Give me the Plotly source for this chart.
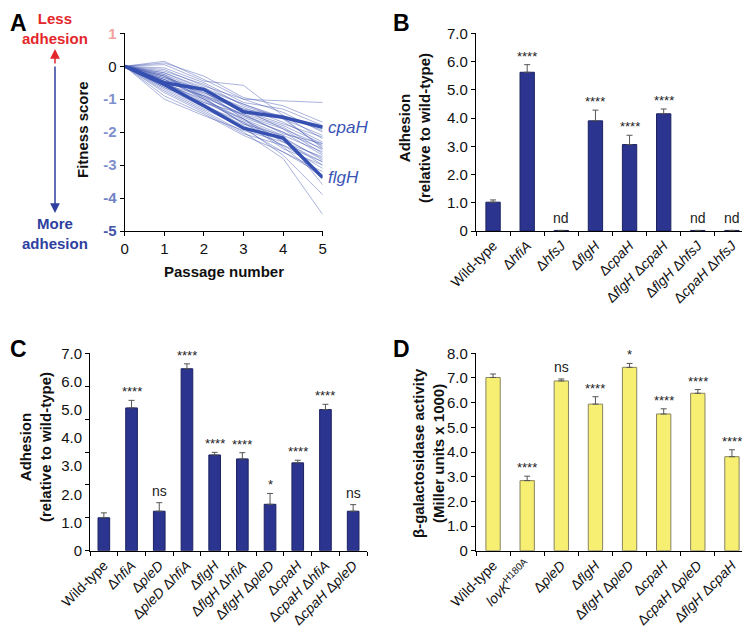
import plotly.graph_objects as go

W, H = 750, 629
OFF = 8  # page body margin that the browser adds around the plot

# ---------------- data ----------------
# Panel A: fitness score per passage
passages = [0, 1, 2, 3, 4, 5]
thin_scores = [
    [0, 0.15, -0.4, -1.0, -1.05, -1.1],
    [0, 0.1, -0.3, -0.95, -1.2, -1.7],
    [0, 0.05, -0.45, -0.58, -1.5, -1.95],
    [0, -0.05, -0.5, -1.1, -1.3, -1.8],
    [0, -0.1, -0.6, -1.0, -1.4, -2.0],
    [0, -0.15, -0.55, -1.2, -1.6, -2.1],
    [0, -0.2, -0.7, -1.3, -1.5, -2.2],
    [0, -0.25, -0.75, -1.25, -1.7, -2.3],
    [0, -0.3, -0.8, -1.4, -1.8, -2.35],
    [0, -0.3, -0.9, -1.3, -1.9, -2.4],
    [0, -0.35, -0.85, -1.5, -2.0, -2.5],
    [0, -0.4, -0.95, -1.45, -1.85, -2.55],
    [0, -0.4, -1.0, -1.6, -2.1, -2.6],
    [0, -0.45, -0.9, -1.55, -2.0, -2.7],
    [0, -0.5, -1.05, -1.7, -2.2, -2.8],
    [0, -0.5, -1.1, -1.6, -2.3, -2.9],
    [0, -0.55, -1.0, -1.75, -2.25, -3.0],
    [0, -0.6, -1.15, -1.8, -2.4, -3.1],
    [0, -0.6, -1.2, -1.7, -2.5, -3.0],
    [0, -0.65, -1.25, -1.9, -2.6, -3.2],
    [0, -0.7, -1.3, -1.85, -2.7, -3.9],
    [0, -0.75, -1.35, -2.0, -2.8, -4.5],
    [0, -0.8, -1.4, -2.05, -2.4, -2.9],
    [0, -0.9, -1.45, -2.1, -2.6, -3.3],
    [0, -1.0, -1.5, -1.95, -2.3, -2.75],
    [0, -0.35, -0.7, -1.15, -1.6, -2.45],
    [0, -0.45, -0.8, -1.35, -1.75, -2.15],
    [0, -0.2, -0.65, -1.15, -1.55, -2.5],
    [0, -0.55, -0.9, -1.5, -1.9, -2.65],
    [0, -0.3, -1.0, -1.65, -2.15, -2.85],
    [0, -0.65, -1.1, -1.45, -2.05, -2.35],
    [0, -0.4, -0.75, -1.6, -2.45, -3.4],
    [0, -0.25, -0.95, -1.75, -2.1, -3.6],
]
cpaH_score = [0, -0.5, -0.7, -1.38, -1.55, -1.85]
flgH_score = [0, -0.55, -1.2, -1.88, -2.18, -3.38]
A_yticks = [1, 0, -1, -2, -3, -4, -5]
A_ytick_colors = ['#f4a39c', '#111111', '#8090cc', '#8090cc', '#8090cc', '#7082c4', '#4456a8']

# Panel B
B_cats = ['Wild-type', 'Δ<i>hfiA</i>', 'Δ<i>hfsJ</i>', 'Δ<i>flgH</i>', 'Δ<i>cpaH</i>',
          'Δ<i>flgH</i> Δ<i>cpaH</i>', 'Δ<i>flgH</i> Δ<i>hfsJ</i>', 'Δ<i>cpaH</i> Δ<i>hfsJ</i>']
B_vals = [1.02, 5.62, 0.02, 3.90, 3.06, 4.15, 0.02, 0.02]
B_errs = [0.08, 0.27, None, 0.38, 0.33, 0.17, None, None]
B_marks = ['', '****', 'nd', '****', '****', '****', 'nd', 'nd']
B_ticklabels = ['0', '1.0', '2.0', '3.0', '4.0', '5.0', '6.0', '7.0']

# Panel C
C_cats = ['Wild-type', 'Δ<i>hfiA</i>', 'Δ<i>pleD</i>', 'Δ<i>pleD</i> Δ<i>hfiA</i>', 'Δ<i>flgH</i>',
          'Δ<i>flgH</i> Δ<i>hfiA</i>', 'Δ<i>flgH</i> Δ<i>pleD</i>', 'Δ<i>cpaH</i>',
          'Δ<i>cpaH</i> Δ<i>hfiA</i>', 'Δ<i>cpaH</i> Δ<i>pleD</i>']
C_vals = [1.0, 4.34, 1.2, 5.53, 2.91, 2.79, 1.41, 2.67, 4.29, 1.2]
C_errs = [0.15, 0.23, 0.26, 0.15, 0.08, 0.19, 0.33, 0.08, 0.16, 0.20]
C_marks = ['', '****', 'ns', '****', '****', '****', '*', '****', '****', 'ns']
C_ticklabels = ['0', '1.0', '2.0', '3.0', '4.0', '5.0', '6.0', '7.0']

# Panel D
D_cats = ['Wild-type', '<i>lovK</i><sup>H180A</sup>', 'Δ<i>pleD</i>', 'Δ<i>flgH</i>',
          'Δ<i>flgH</i> Δ<i>pleD</i>', 'Δ<i>cpaH</i>', 'Δ<i>cpaH</i> Δ<i>pleD</i>', 'Δ<i>flgH</i> Δ<i>cpaH</i>']
D_vals = [7.02, 2.84, 6.88, 5.94, 7.43, 5.54, 6.38, 3.81]
D_errs = [0.14, 0.18, 0.08, 0.30, 0.16, 0.21, 0.15, 0.28]
D_marks = ['', '****', 'ns', '****', '*', '****', '****', '****']
D_ticklabels = ['0', '1.0', '2.0', '3.0', '4.0', '5.0', '6.0', '7.0', '8.0']

# ---------------- helpers ----------------
FONT = 'Liberation Sans, Arial, sans-serif'
NAVY = '#2b3590'
YELLOW = '#f6ef72'
LINEBLUE = '#3550b0'


def px(x):
    # screen pixel -> paper fraction
    return (x - OFF) / W


def py(y):
    return 1 - (y - OFF) / H


fig = go.Figure()

# Panel A traces
for s in thin_scores:
    fig.add_trace(go.Scatter(x=passages, y=s, mode='lines', xaxis='x', yaxis='y',
                             line=dict(color='rgba(60,80,175,0.55)', width=0.8),
                             hoverinfo='skip', showlegend=False))
for s in [cpaH_score, flgH_score]:
    fig.add_trace(go.Scatter(x=passages, y=s, mode='lines', xaxis='x', yaxis='y',
                             line=dict(color=LINEBLUE, width=3.5),
                             showlegend=False))


def bars(cats, vals, errs, color, edge, xa, ya):
    fig.add_trace(go.Bar(
        x=cats, y=vals, xaxis=xa, yaxis=ya, width=0.42,
        marker=dict(color=color, line=dict(color=edge, width=1)),
        error_y=dict(type='data', array=errs, arrayminus=[0] * len(vals), symmetric=False,
                     color='#555555', thickness=1, width=3),
        showlegend=False))


bars(B_cats, B_vals, B_errs, NAVY, '#1c2160', 'x2', 'y2')
bars(C_cats, C_vals, C_errs, NAVY, '#1c2160', 'x3', 'y3')
bars(D_cats, D_vals, D_errs, YELLOW, '#8a8460', 'x4', 'y4')
# carrier for the C tick-label axis
fig.add_trace(go.Scatter(x=[], y=[], xaxis='x3', yaxis='y5', showlegend=False))

annotations = []


def marks(cats, vals, errs, labels, xa, ya):
    for c, v, e, m in zip(cats, vals, errs, labels):
        if not m:
            continue
        star = m.startswith('*')
        annotations.append(dict(
            x=c, y=v + (e or 0), xref=xa, yref=ya, text=m, showarrow=False,
            xanchor='center', yanchor='bottom', yshift=-1 if star else 2,
            font=dict(family=FONT, size=13 if star else 14, color='#222222')))


marks(B_cats, B_vals, B_errs, B_marks, 'x2', 'y2')
marks(C_cats, C_vals, C_errs, C_marks, 'x3', 'y3')
marks(D_cats, D_vals, D_errs, D_marks, 'x4', 'y4')

bold15 = dict(family=FONT, size=15, color='#111111')

# panel letters
for letter, x, y in [('A', 8, 8), ('B', 391, 8), ('C', 8, 334), ('D', 391, 334)]:
    annotations.append(dict(x=px(x), y=py(y), xref='paper', yref='paper', text='<b>%s</b>' % letter,
                            showarrow=False, xanchor='left', yanchor='top',
                            font=dict(family=FONT, size=23, color='black')))

# axis titles
annotations += [
    dict(x=px(83), y=py(130), text='<b>Fitness score</b>', textangle=-90),
    dict(x=px(224), y=py(271), text='<b>Passage number</b>'),
    dict(x=px(415), y=py(128), text='<b>Adhesion<br>(relative to wild-type)</b>', textangle=-90),
    dict(x=px(35), y=py(447), text='<b>Adhesion<br>(relative to wild-type)</b>', textangle=-90),
    dict(x=px(428), y=py(453), text='<b>β-galactosidase activity<br>(Miller units x 1000)</b>', textangle=-90),
]
for a in annotations[-5:]:
    a.update(xref='paper', yref='paper', showarrow=False, font=bold15,
             xanchor='center', yanchor='middle')

# gene labels in A
for name, s in [('cpaH', cpaH_score), ('flgH', flgH_score)]:
    annotations.append(dict(x=passages[-1], y=s[-1], xref='x', yref='y', text='<i>%s</i>' % name,
                            showarrow=False, xanchor='left', yanchor='middle', xshift=3,
                            font=dict(family=FONT, size=17, color='#3a54b4')))

# adhesion arrow on the left of A
annotations += [
    dict(x=px(55), y=py(29), xref='paper', yref='paper', text='<b>Less<br>adhesion</b>', showarrow=False,
         xanchor='center', yanchor='middle', font=dict(family=FONT, size=15, color='#e3262c')),
    dict(x=px(55), y=py(233), xref='paper', yref='paper', text='<b>More<br>adhesion</b>', showarrow=False,
         xanchor='center', yanchor='middle', font=dict(family=FONT, size=15, color='#2f3f9f')),
    dict(x=px(55), y=py(49), xref='paper', yref='paper', text='', showarrow=True, ax=0, ay=16,
         arrowhead=2, arrowsize=1.3, arrowwidth=1.5, arrowcolor='#e3262c'),
    dict(x=px(55), y=py(213), xref='paper', yref='paper', text='', showarrow=True, ax=0, ay=-148,
         arrowhead=2, arrowsize=1.3, arrowwidth=1.5, arrowcolor='#2f3f9f'),
]

tickfont = dict(family=FONT, size=15, color='#111111')
axis_common = dict(showline=True, linecolor='black', linewidth=1.2, ticks='outside', ticklen=4,
                   tickcolor='black', showgrid=False, zeroline=False, tickfont=tickfont,
                   automargin=False)
cat_axis = dict(axis_common, type='category', tickson='boundaries', tickangle=-45,
                tickfont=dict(family=FONT, size=14, color='#111111'))

top_row = [py(231), py(33.3)]
bottom_row = [py(550.7), py(353.3)]

fig.update_layout(
    width=W, height=H, margin=dict(l=0, r=0, t=0, b=0, autoexpand=False),
    paper_bgcolor='white', plot_bgcolor='white', showlegend=False,
    font=dict(family=FONT), bargap=0.58,
    xaxis=dict(axis_common, domain=[px(124.7), px(322.7)], anchor='y', range=[0, 5],
               tickvals=passages),
    yaxis=dict(axis_common, domain=top_row, anchor='x', range=[-5, 1], tickvals=A_yticks,
               ticktext=['<span style="color:%s"><b>%d</b></span>' % (c, t) if t != 0
                         else '<span style="color:%s">%d</span>' % (c, t)
                         for t, c in zip(A_yticks, A_ytick_colors)]),
    xaxis2=dict(cat_axis, domain=[px(476), px(749)], anchor='y2'),
    yaxis2=dict(axis_common, domain=top_row, anchor='x2', range=[0, 7],
                tickvals=list(range(8)), ticktext=B_ticklabels),
    xaxis3=dict(cat_axis, domain=[px(90), px(367)], anchor='y3'),
    yaxis3=dict(axis_common, domain=bottom_row, anchor='x3', range=[0, 6],
                tickvals=list(range(7)), showticklabels=False),
    yaxis5=dict(overlaying='y3', anchor='x3', side='left', range=[0, 7], showline=False,
                showgrid=False, zeroline=False, ticks='outside', ticklen=4, tickcolor='rgba(0,0,0,0)',
                tickvals=list(range(8)), ticktext=C_ticklabels, tickfont=tickfont, automargin=False),
    xaxis4=dict(cat_axis, domain=[px(476), px(749)], anchor='y4'),
    yaxis4=dict(axis_common, domain=bottom_row, anchor='x4', range=[0, 8],
                tickvals=list(range(9)), ticktext=D_ticklabels),
    annotations=annotations,
)

fig.write_html('out.html')
